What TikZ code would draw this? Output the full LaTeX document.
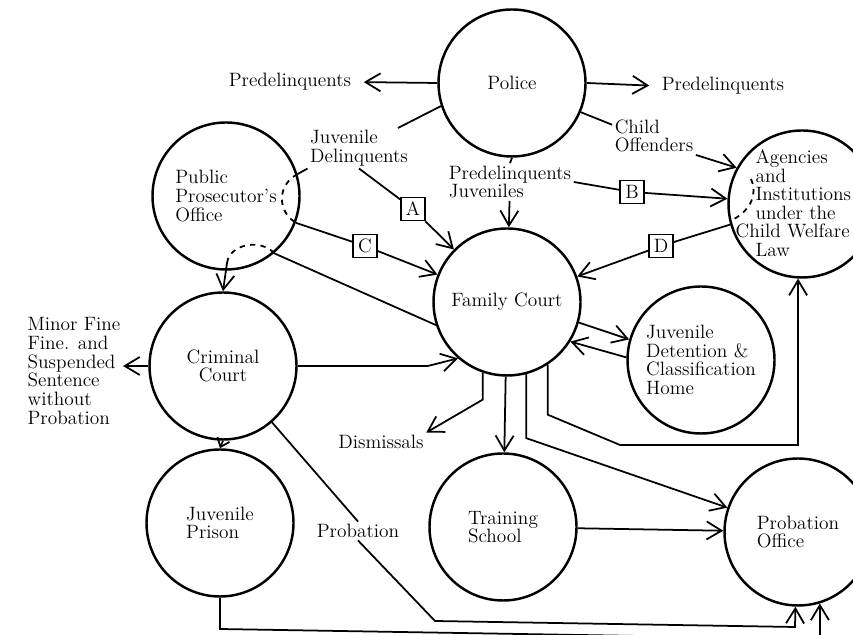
\documentclass[tikz,border=0pt]{standalone}
\usepackage{tikz}
\usetikzlibrary{arrows.meta}

\begin{document}
\begin{tikzpicture}[x=0.2mm, y=0.2mm, line width=1pt,
    >={Straight Barb[length=3mm,width=3.6mm]},
    font=\fontsize{11}{10.6}\selectfont]
    \tikzset{nd/.style={
      circle,
      draw,
      line width=1.4pt,
      minimum size=2.94cm,
      inner sep=0pt,
      align=left},
      lbl/.style={inner sep=1pt, align=left},
      lbox/.style={draw, line width=0.8pt, minimum width=0.48cm,
        minimum height=0.46cm, inner sep=0pt}}
    \useasboundingbox (0,0) rectangle (853,635);
    \node[nd] at (512,552) (police) {Police};
    \node[nd] at (226,439) (ppo) {Public\\Prosecutor's\\Office};
    \node[nd] at (802,431) (agency) {};
    \node[lbl, anchor=north west] at (733,488) (agencytxt) {\hspace*{0.4cm}Agencies\\
      \hspace*{0.4cm}and\\ \hspace*{0.4cm}Institutions\\ \hspace*{0.4cm}under the\\
      Child Welfare\\ \hspace*{0.4cm}Law};
    \node[nd] at (507,333) (fc) {Family Court};
    \node[nd, align=center] at (223,269) (crim) {Criminal\\Court};
    \node[nd] at (220,112) (jprison) {Juvenile\\Prison};
    \node[nd] at (503,108) (school) {Training\\School};
    \node[nd] at (701,275) (jdc) {Juvenile\\Detention \&\\Classification\\Home};
    \node[nd] at (798,103) (probo) {Probation\\Office};
    \node[lbl] at (290,553) (predL) {Predelinquents};
    \node[lbl] at (723,549) (predR) {Predelinquents};
    \node[lbl] at (359,487) (jdel) {Juvenile\\Delinquents};
    \node[lbl] at (654,499) (childoff) {Child\\Offenders};
    \node[lbl] at (510,453) (predjuv) {Predelinquents\\Juveniles};
    \node[lbl] at (74,264) (minor) {Minor Fine\\Fine. and\\Suspended\\Sentence\\without\\Probation};
    \node[lbl] at (381,193) (dism) {Dismissals};
    \node[lbl] at (358,104) (prob) {Probation};
    \node[lbox] at (413,426) (A) {A};
    \node[lbox] at (632,443) (B) {B};
    \node[lbox] at (365,389) (C) {C};
    \node[lbox] at (661,389) (D) {D};
    \coordinate (jdeltop) at (398,507);
    \coordinate (ppoturn) at (227,372);
    \coordinate (probbend) at (435,14);
    \draw[->, shorten >=2mm] (police.west) -- (predL.east);
    \draw[->, shorten >=2mm] (police.east) -- (predR.west);
    \draw (police.198) -- (jdeltop);
    \draw (jdel.south west) -- (ppo.17);
    \draw[dashed] (ppo.17) .. controls (277,450) and (277,424) .. (ppo.-21);
    \draw (jdel.south) -- (A);
    \draw[->] (A) -- (fc);
    \draw (ppo.-21) -- (C);
    \draw[->] (C) -- (fc);
    \draw (fc.198) -- (ppo.-50);
    \draw[dashed] (ppo.-50) .. controls (262,396) and (230,392) .. (ppoturn);
    \draw[->] (ppoturn) -- (crim.north);
    \draw (police.south) -- (predjuv.north);
    \draw[->] (predjuv) -- (fc);
    \draw (predjuv.east) -- (B);
    \draw[->] (B) -- (agency);
    \draw (police.-23) -- (childoff.165);
    \draw[->] (childoff.south east) -- (agency.151);
    \draw[dashed] (751,456) .. controls (758,440) and (750,425) .. (734,416);
    \draw (agency.196) -- (D);
    \draw[->] (D) -- (fc);
    \draw[->] (crim.east) -- ++(130,0) -- (fc.229);
    \draw[->] (crim.west) -- (crim.west -| minor.east);
    \draw[-{Straight Barb[length=1.6mm,width=2.6mm]}] (crim.south) -- (jprison.north);
    \draw (crim.-49) -- (prob.north);
    \draw[->] (prob.south) -- (probbend) -- (795,8) -- (probo.268);
    \draw[->] (jprison.south) -- (220,6) -- (820,-4) -- (probo.-73);
    \draw[->] (fc.-109) -- ++(0,-27) -- (dism.north east);
    \draw[->] (fc) -- (school);
    \draw[->] (fc.-75) -- ++(0,-64) -- (probo.161);
    \draw[->] (fc.-57) -- ++(0,-50) -- (620,190) -| (agency.-93);
    \draw[->] (fc.-16) -- (jdc.164);
    \draw[->] (jdc.178) -- (fc.-32);
    \draw[->] (school) -- (probo);
  \end{tikzpicture}
\end{document}
